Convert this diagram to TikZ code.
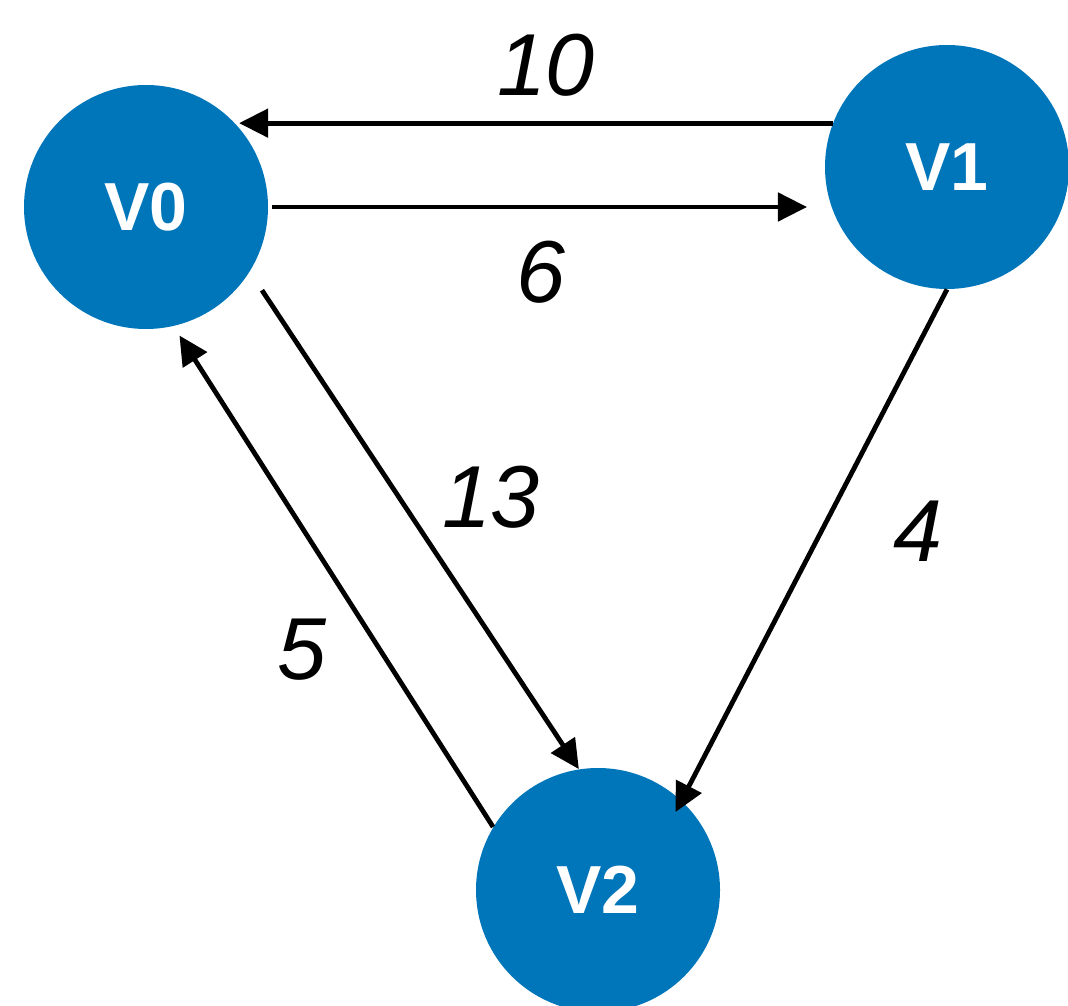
\documentclass[tikz,border=0pt]{standalone}
\usepackage{fontspec}
\setmainfont{Liberation Sans}
\usetikzlibrary{arrows.meta}
\definecolor{vblue}{RGB}{0,118,186}
\begin{document}
\begin{tikzpicture}[x=0.5pt, y=-0.5pt,
	vertex/.style={circle, fill=vblue, inner sep=0pt, minimum size=122pt, text=white, font=\fontsize{34}{34}\selectfont\bfseries},
	weight/.style={font=\fontsize{44}{44}\selectfont\itshape},
	arc/.style={line width=2.4pt, -{Triangle[length=14.5pt, width=14pt]}}]
	\useasboundingbox (0, 0) rectangle (1068, 1005);
	
	\node[vertex] (v0) at (146, 207) {V0};
	\node[vertex] (v1) at (947, 167) {V1};
	\node[vertex] (v2) at (598, 890) {V2};
	
	\draw[arc, shorten >=2.5pt] (v1.159) -- (v1.159 -| v0.44);
	\draw[arc, shorten <=2pt, shorten >=12.5pt] (v0.east) -- (v0.east -| v1.200);
	\draw[arc, shorten <=11pt] (v0.-32) -- (v2.99.5);
	\draw[arc, shorten >=5.5pt] (v2.149) -- (v0.-77);
	\draw[arc, shorten >=-6.5pt] (v1.south) -- (v2.47);
	
	\node[weight] (w10) at (546, 65) {10};
	\node[weight] (w6) at (541, 272) {6};
	\node[weight] (w13) at (491, 497) {13};
	\node[weight] (w5) at (302, 650) {5};
	\node[weight] (w4) at (918, 531) {4};
\end{tikzpicture}
\end{document}
